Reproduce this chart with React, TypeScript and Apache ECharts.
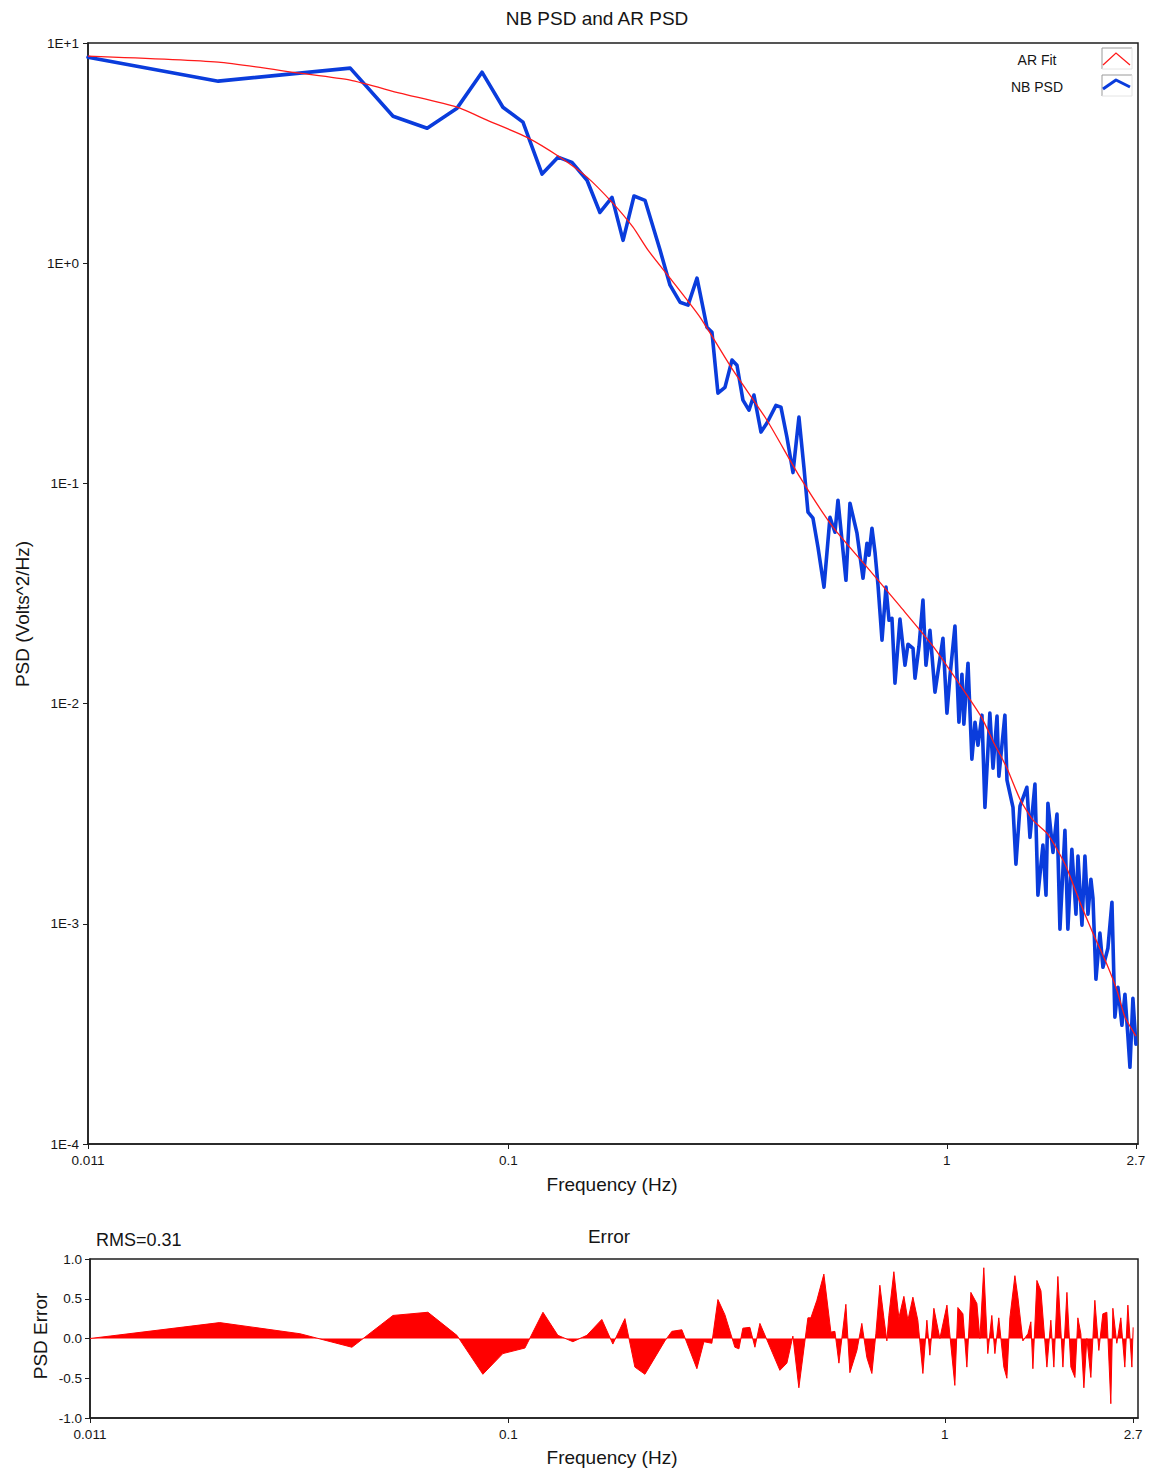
import React, { useEffect, useRef } from 'react';
import * as echarts from 'echarts';

// ---------- data ----------
const NB_FREQ = [
  0.011, 0.0218, 0.0436, 0.0546, 0.0653, 0.0764, 0.0871, 0.0972, 0.108, 0.1194,
  0.1298, 0.1397, 0.1512, 0.1618, 0.1724, 0.1827, 0.1935, 0.205, 0.2218, 0.2338,
  0.2464, 0.257, 0.2694, 0.2838, 0.2914, 0.3007, 0.312, 0.3237, 0.3323, 0.3429,
  0.3539, 0.3633, 0.377, 0.389, 0.4078, 0.4186, 0.432, 0.4459, 0.4601, 0.4724,
  0.4825, 0.4953, 0.5085, 0.5248, 0.5416, 0.556, 0.5648, 0.589, 0.6015, 0.6241,
  0.6441, 0.6577, 0.6647, 0.6752, 0.686, 0.6969, 0.7117, 0.7268, 0.7384, 0.7499,
  0.7619, 0.7821, 0.803, 0.8157, 0.8376, 0.8464, 0.8643, 0.8825, 0.8965, 0.9155,
  0.94, 0.9802, 1.001, 1.017, 1.044, 1.066, 1.083, 1.094, 1.118, 1.141,
  1.16, 1.178, 1.203, 1.222, 1.254, 1.275, 1.302, 1.315, 1.357, 1.372,
  1.416, 1.438, 1.469, 1.523, 1.548, 1.589, 1.614, 1.657, 1.684, 1.701,
  1.747, 1.784, 1.812, 1.86, 1.889, 1.929, 1.971, 1.992, 2.034, 2.066,
  2.099, 2.132, 2.155, 2.189, 2.235, 2.271, 2.331, 2.381, 2.418, 2.457,
  2.509, 2.549, 2.589, 2.617, 2.658, 2.7,
];
const NB_PSD = [
  8.62, 6.71, 7.69, 4.65, 4.1, 5.06, 7.37, 5.11, 4.37, 2.54,
  3.03, 2.87, 2.38, 1.7, 1.99, 1.27, 2.02, 1.93, 1.15, 0.795,
  0.665, 0.645, 0.855, 0.512, 0.486, 0.257, 0.273, 0.363, 0.344, 0.239,
  0.215, 0.252, 0.171, 0.188, 0.226, 0.222, 0.162, 0.112, 0.2, 0.118,
  0.074, 0.0695, 0.0513, 0.0338, 0.0702, 0.06, 0.0839, 0.0363, 0.0813, 0.0594,
  0.0371, 0.0535, 0.0472, 0.0626, 0.0487, 0.0345, 0.0194, 0.0338, 0.0239, 0.0244,
  0.01238, 0.0242, 0.01494, 0.0186, 0.0178, 0.01304, 0.0182, 0.0295, 0.01494, 0.0215,
  0.01127, 0.0198, 0.00905, 0.01332, 0.0225, 0.00823, 0.0136, 0.00806, 0.01526, 0.00559,
  0.00823, 0.00647, 0.00886, 0.00338, 0.00905, 0.00509, 0.00877, 0.00468, 0.00886, 0.00449,
  0.00338, 0.001866, 0.00342, 0.00417, 0.00247, 0.00431, 0.00135, 0.00228, 0.00135, 0.00353,
  0.00211, 0.00315, 0.000945, 0.00266, 0.000945, 0.00218, 0.001106, 0.00203, 0.000985, 0.00203,
  0.001106, 0.001594, 0.001307, 0.00056, 0.000907, 0.000635, 0.000775, 0.001253, 0.000377, 0.000515,
  0.000346, 0.000479, 0.000309, 0.000223, 0.000459, 0.000284,
];

const AR_FREQ = [
  0.011, 0.0218, 0.0335, 0.0436, 0.0566, 0.0764, 0.0894, 0.1103, 0.1312, 0.1512,
  0.1733, 0.1925, 0.2083, 0.2338, 0.2736, 0.3254, 0.389, 0.4626, 0.5502, 0.6577,
  0.7821, 0.93, 1.112, 1.203, 1.275, 1.372, 1.469, 1.573, 1.692, 1.784,
  1.879, 2.013, 2.155, 2.318, 2.444, 2.549, 2.7,
];
const AR_PSD = [
  8.71, 8.18, 7.29, 6.78, 5.92, 5.11, 4.46, 3.73, 3.03, 2.46,
  1.87, 1.457, 1.146, 0.855, 0.5685, 0.3266, 0.1936, 0.1067, 0.0633, 0.04164,
  0.02769, 0.01823, 0.01092, 0.00859, 0.00675, 0.00509, 0.00368, 0.002955, 0.002579, 0.00218,
  0.001789, 0.001253, 0.000907, 0.000655, 0.000499, 0.000377, 0.000309,
];

const ERR_FREQ = [
  0.011, 0.0218, 0.0333, 0.0438, 0.0544, 0.0654, 0.0762, 0.0874, 0.0971, 0.1091,
  0.12, 0.1298, 0.1405, 0.1513, 0.1637, 0.1735, 0.1849, 0.1949, 0.2055, 0.2283,
  0.2369, 0.2497, 0.2703, 0.2805, 0.2925, 0.302, 0.3133, 0.3303, 0.3374, 0.3445,
  0.3575, 0.3671, 0.3769, 0.4188, 0.4345, 0.4485, 0.4629, 0.4855, 0.4932, 0.509,
  0.5282, 0.5481, 0.5598, 0.5718, 0.5932, 0.6059, 0.6287, 0.6453, 0.6626, 0.6804,
  0.6949, 0.7097, 0.7249, 0.7364, 0.7442, 0.7641, 0.7845, 0.8056, 0.8228, 0.8448,
  0.8671, 0.8905, 0.9095, 0.9239, 0.9437, 0.9739, 1.011, 1.054, 1.071, 1.1,
  1.123, 1.147, 1.184, 1.203, 1.228, 1.254, 1.281, 1.302, 1.329, 1.365,
  1.387, 1.409, 1.447, 1.47, 1.509, 1.55, 1.574, 1.591, 1.625, 1.66,
  1.713, 1.749, 1.777, 1.815, 1.864, 1.904, 1.944, 1.986, 2.017, 2.049,
  2.082, 2.115, 2.16, 2.206, 2.253, 2.301, 2.35, 2.4, 2.426, 2.477,
  2.53, 2.584, 2.626, 2.682, 2.7,
];
const ERR_VAL = [
  0, 0.2, 0.06, -0.11, 0.29, 0.33, 0.04, -0.45, -0.19, -0.12,
  0.33, 0.04, -0.04, 0.04, 0.24, -0.07, 0.25, -0.36, -0.45, -0.03,
  0.09, 0.11, -0.38, -0.04, -0.06, 0.49, 0.3, -0.11, -0.13, 0.13,
  0.14, -0.11, 0.19, -0.4, -0.31, 0.03, -0.62, 0.26, 0.26, 0.48,
  0.81, 0.08, 0.09, -0.31, 0.43, -0.43, -0.15, 0.19, -0.24, -0.44,
  0.06, 0.67, 0.26, -0.03, 0.29, 0.84, 0.26, 0.53, 0.23, 0.52,
  0.23, -0.44, 0.23, -0.21, 0.38, 0.0, 0.42, -0.59, 0.39, 0.31,
  -0.36, 0.58, 0.44, 0.0, 0.89, -0.19, 0.29, -0.19, 0.26, -0.36,
  -0.5, 0.26, 0.79, 0.52, -0.03, 0.06, 0.21, -0.38, 0.73, 0.6,
  -0.36, 0.23, -0.36, 0.78, -0.36, 0.58, -0.36, -0.49, 0.26, 0.06,
  -0.62, 0.0, -0.49, 0.48, -0.15, 0.31, 0.33, -0.82, 0.38, -0.06,
  0.26, -0.36, 0.42, -0.36, 0.14,
];

const X_TICKS = [0.011, 0.1, 1, 2.7];
const RMS_TEXT = 'RMS=0.31';

// ---------- styling ----------
const FONT = "'Liberation Sans', Arial, Helvetica, sans-serif";
const TXT = '#151515';
const FRAME = '#1e1e1e';
const BLUE = '#0a3cdc';
const RED = '#ff1a1a';

const zip = (xs: number[], ys: number[]) => xs.map((x, i) => [x, ys[i]]);
const fmtX = (v: number) => String(Number(Number(v).toPrecision(3)));
const fmtLogY = (v: number) => {
  const e = Math.round(Math.log10(v));
  return '1E' + (e >= 0 ? '+' : '-') + Math.abs(e);
};

function buildOption(): any {
  const xAxisCommon = (gridIndex: number, max: number) => ({
    type: 'log',
    logBase: 10,
    gridIndex,
    min: 0.011,
    max,
    axisLine: { show: true, onZero: false, lineStyle: { color: FRAME, width: 1.5 } },
    axisTick: { show: true, length: 5, lineStyle: { color: FRAME, width: 1 }, customValues: X_TICKS },
    axisLabel: {
      customValues: X_TICKS,
      formatter: fmtX,
      margin: 9,
      fontSize: 13.5,
      color: TXT,
      fontFamily: FONT,
    },
    splitLine: { show: false },
    minorTick: { show: false },
    minorSplitLine: { show: false },
  });

  const text = (t: string, x: number, y: number, size: number, extra: any = {}) => ({
    type: 'text',
    x,
    y,
    silent: true,
    ...extra,
    style: {
      text: t,
      fill: TXT,
      fontSize: size,
      fontFamily: FONT,
      align: extra.align || 'center',
      verticalAlign: 'middle',
    },
  });

  return {
    animation: false,
    backgroundColor: '#ffffff',
    textStyle: { fontFamily: FONT },
    grid: [
      { left: 88, top: 43, width: 1050, height: 1101, show: true, borderColor: FRAME, borderWidth: 1.5, backgroundColor: 'transparent', containLabel: false },
      { left: 90, top: 1259, width: 1048, height: 159, show: true, borderColor: FRAME, borderWidth: 1.5, backgroundColor: 'transparent', containLabel: false },
    ],
    xAxis: [xAxisCommon(0, 2.73), xAxisCommon(1, 2.77)],
    yAxis: [
      {
        type: 'log',
        logBase: 10,
        gridIndex: 0,
        min: 0.0001,
        max: 10,
        axisLine: { show: true, lineStyle: { color: FRAME, width: 1.5 } },
        axisTick: { show: true, length: 5, lineStyle: { color: FRAME, width: 1 } },
        axisLabel: { formatter: fmtLogY, margin: 9, fontSize: 13.5, color: TXT, fontFamily: FONT },
        splitLine: { show: false },
        minorTick: { show: false },
      },
      {
        type: 'value',
        gridIndex: 1,
        min: -1,
        max: 1,
        interval: 0.5,
        axisLine: { show: true, lineStyle: { color: FRAME, width: 1.5 } },
        axisTick: { show: true, length: 5, lineStyle: { color: FRAME, width: 1 } },
        axisLabel: { formatter: (v: number) => v.toFixed(1), margin: 8, fontSize: 13.5, color: TXT, fontFamily: FONT },
        splitLine: { show: false },
      },
    ],
    series: [
      {
        name: 'NB PSD',
        type: 'line',
        xAxisIndex: 0,
        yAxisIndex: 0,
        data: zip(NB_FREQ, NB_PSD),
        showSymbol: false,
        symbol: 'none',
        lineStyle: { color: BLUE, width: 3.6, join: 'round', cap: 'round' },
        z: 2,
      },
      {
        name: 'AR Fit',
        type: 'line',
        xAxisIndex: 0,
        yAxisIndex: 0,
        data: zip(AR_FREQ, AR_PSD),
        showSymbol: false,
        symbol: 'none',
        smooth: 0.2,
        lineStyle: { color: RED, width: 1.3 },
        z: 3,
      },
      {
        name: 'PSD Error',
        type: 'line',
        xAxisIndex: 1,
        yAxisIndex: 1,
        data: zip(ERR_FREQ, ERR_VAL),
        showSymbol: false,
        symbol: 'none',
        lineStyle: { color: '#ff0000', width: 1 },
        areaStyle: { color: '#ff0000', opacity: 1, origin: 'auto' },
        z: 2,
      },
    ],
    graphic: [
      text('NB PSD and AR PSD', 597, 18, 19),
      text('Frequency (Hz)', 612, 1184, 19),
      text('PSD (Volts^2/Hz)', 22, 614, 19, { rotation: Math.PI / 2 }),
      text('Error', 609, 1236, 19),
      text(RMS_TEXT, 96, 1240, 18, { align: 'left' }),
      text('PSD Error', 40, 1336, 19, { rotation: Math.PI / 2 }),
      text('Frequency (Hz)', 612, 1457, 19),
      // legend
      text('AR Fit', 1037, 60, 14),
      text('NB PSD', 1037, 87, 14),
      { type: 'polyline', silent: true, shape: { points: [[1102, 69], [1102, 48], [1132, 48]] }, style: { stroke: '#9a9a9a', lineWidth: 1, fill: null } },
      { type: 'polyline', silent: true, shape: { points: [[1132, 48], [1132, 69], [1102, 69]] }, style: { stroke: '#e4e4e4', lineWidth: 1, fill: null } },
      { type: 'polyline', silent: true, shape: { points: [[1103, 65], [1116, 53], [1130, 65]] }, style: { stroke: RED, lineWidth: 1.3, fill: null } },
      { type: 'polyline', silent: true, shape: { points: [[1102, 96], [1102, 75], [1132, 75]] }, style: { stroke: '#9a9a9a', lineWidth: 1, fill: null } },
      { type: 'polyline', silent: true, shape: { points: [[1132, 75], [1132, 96], [1102, 96]] }, style: { stroke: '#e4e4e4', lineWidth: 1, fill: null } },
      { type: 'polyline', silent: true, shape: { points: [[1103, 89], [1116, 80], [1130, 87]] }, style: { stroke: BLUE, lineWidth: 3, fill: null, lineJoin: 'round' } },
    ],
  };
}

export default function App() {
  const ref = useRef<HTMLDivElement>(null);
  useEffect(() => {
    if (!ref.current) return;
    const chart = echarts.init(ref.current, null, { renderer: 'svg' });
    chart.setOption(buildOption());
    return () => {
      chart.dispose();
    };
  }, []);
  return (
    <div
      ref={ref}
      style={{ position: 'absolute', left: 0, top: 0, width: 1150, height: 1471, background: '#ffffff' }}
    />
  );
}
